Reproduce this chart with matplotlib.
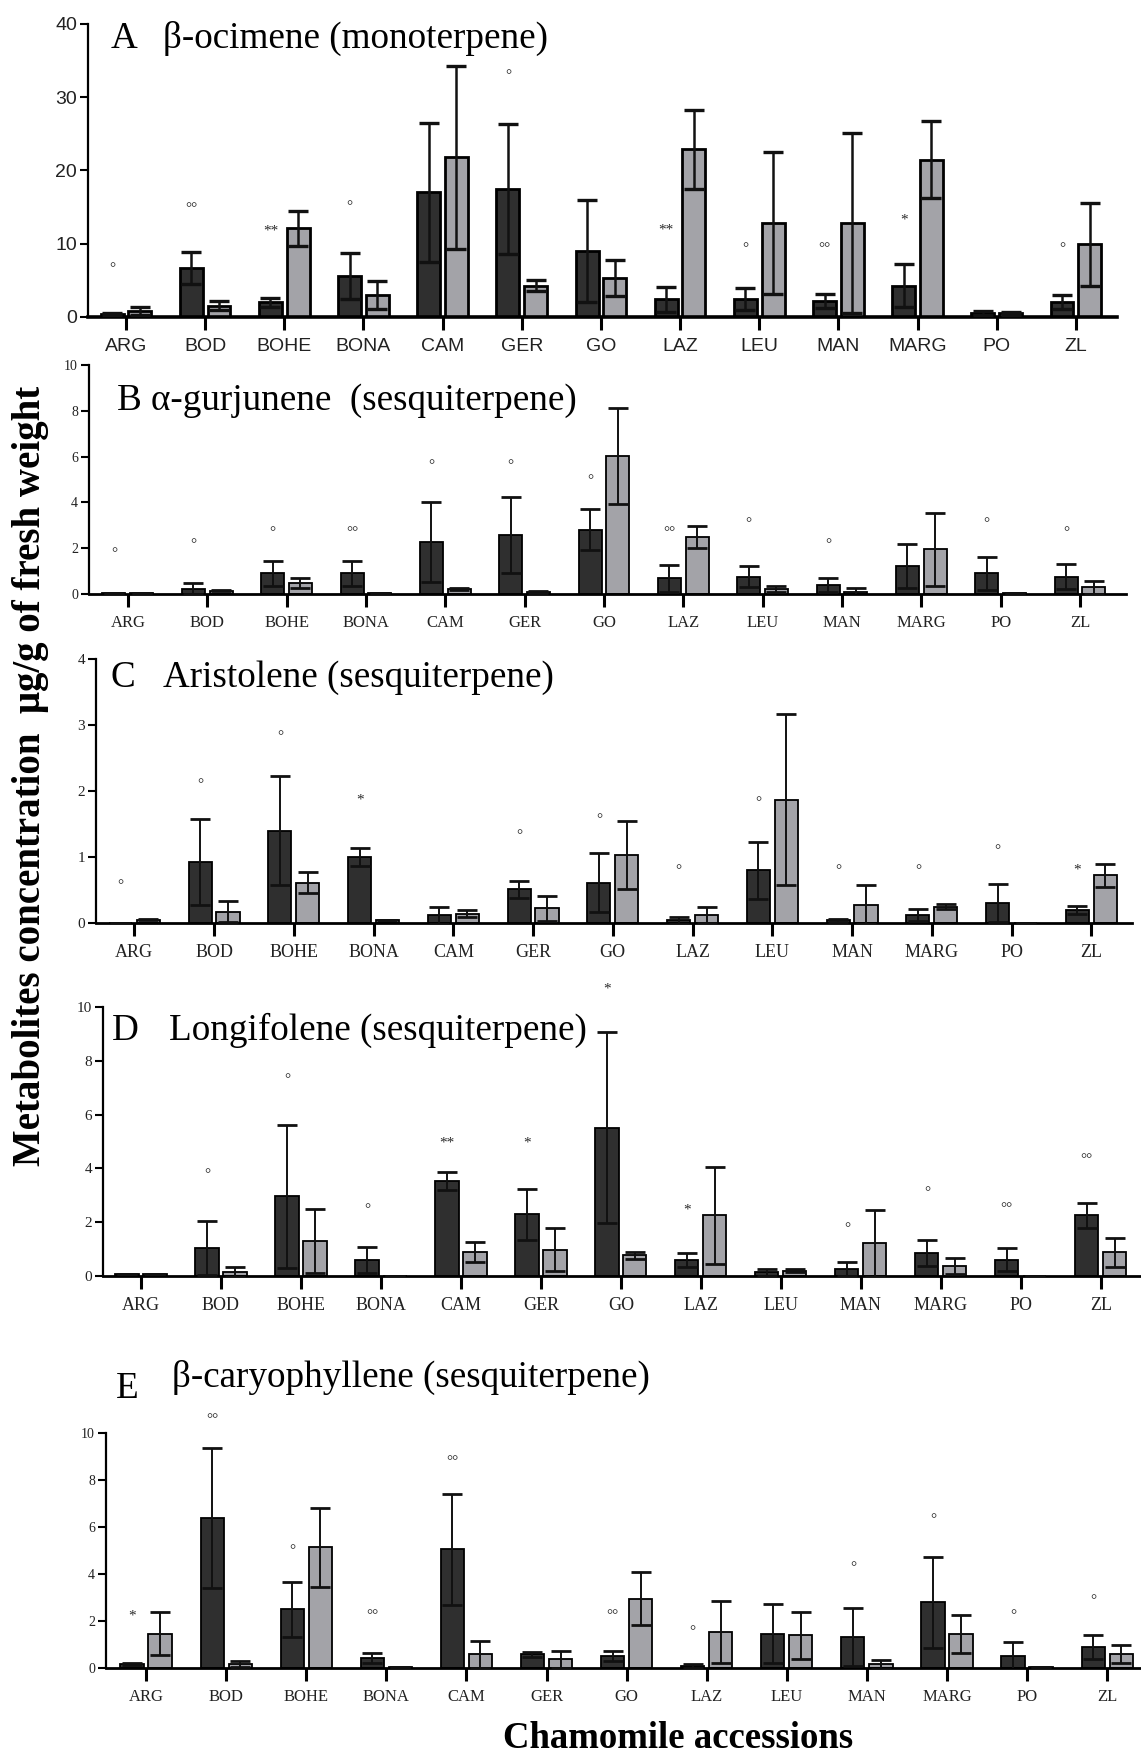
import matplotlib.pyplot as plt
import numpy as np

W, H = 1141, 1757

accessions = ["ARG", "BOD", "BOHE", "BONA", "CAM", "GER", "GO",
              "LAZ", "LEU", "MAN", "MARG", "PO", "ZL"]

# A - beta-ocimene
ocim_dark = [0.4, 6.7, 2.0, 5.6, 17.0, 17.5, 9.0, 2.4, 2.4, 2.2, 4.3, 0.55, 2.0]
ocim_dark_sd = [0.15, 2.2, 0.6, 3.1, 9.5, 8.9, 7.0, 1.75, 1.5, 1.0, 2.9, 0.25, 0.95]
ocim_light = [0.8, 1.55, 12.1, 3.0, 21.8, 4.3, 5.3, 22.9, 12.8, 12.8, 21.5, 0.5, 9.9]
ocim_light_sd = [0.5, 0.6, 2.4, 1.85, 12.5, 0.8, 2.5, 5.4, 9.7, 12.3, 5.2, 0.2, 5.6]
ocim_sig = ["°", "°°", "**", "°", "", "°", "", "**", "°", "°°", "*", "", "°"]
ocim_sig_y = [6.6, 14.8, 11.8, 15.0, 0, 33.0, 0, 11.9, 9.4, 9.4, 13.2, 0, 9.4]

# B - alpha-gurjunene
gurj_dark = [0.06, 0.23, 0.9, 0.9, 2.27, 2.58, 2.8, 0.68, 0.76, 0.38, 1.22, 0.9, 0.76]
gurj_dark_sd = [0.0, 0.23, 0.54, 0.53, 1.75, 1.66, 0.9, 0.6, 0.45, 0.3, 0.96, 0.73, 0.56]
gurj_light = [0.05, 0.15, 0.47, 0.03, 0.23, 0.1, 6.03, 2.49, 0.23, 0.09, 1.95, 0.03, 0.3]
gurj_light_sd = [0.0, 0.02, 0.21, 0.0, 0.05, 0.05, 2.1, 0.47, 0.13, 0.17, 1.6, 0.0, 0.28]
gurj_sig = ["°", "°", "°", "°°", "°", "°", "°", "°°", "°", "°", "", "°", "°"]
gurj_sig_y = [1.75, 2.17, 2.7, 2.7, 5.6, 5.6, 4.95, 2.7, 3.06, 2.17, 0, 3.06, 2.7]

# C - aristolene
arist_dark = [0.0, 0.93, 1.4, 1.0, 0.12, 0.51, 0.61, 0.04, 0.8, 0.04, 0.12, 0.3, 0.2]
arist_dark_sd = [0.0, 0.65, 0.83, 0.13, 0.13, 0.13, 0.45, 0.05, 0.43, 0.02, 0.09, 0.29, 0.06]
arist_light = [0.05, 0.17, 0.61, 0.04, 0.14, 0.22, 1.03, 0.12, 1.87, 0.28, 0.25, 0.0, 0.72]
arist_light_sd = [0.01, 0.16, 0.16, 0.0, 0.05, 0.19, 0.52, 0.12, 1.3, 0.29, 0.04, 0.0, 0.17]
arist_sig = ["°", "°", "°", "*", "", "°", "°", "°", "°", "°", "°", "°", "*"]
arist_sig_y = [0.56, 2.1, 2.82, 1.86, 0, 1.33, 1.57, 0.8, 1.83, 0.8, 0.8, 1.09, 0.8]

# D - longifolene
longi_dark = [0.07, 1.05, 2.97, 0.6, 3.53, 2.3, 5.52, 0.58, 0.14, 0.26, 0.84, 0.6, 2.25]
longi_dark_sd = [0.0, 1.0, 2.66, 0.49, 0.32, 0.95, 3.55, 0.26, 0.13, 0.25, 0.48, 0.43, 0.48]
longi_light = [0.06, 0.14, 1.3, 0.0, 0.9, 0.97, 0.77, 2.25, 0.2, 1.21, 0.38, 0.0, 0.89]
longi_light_sd = [0.0, 0.18, 1.18, 0.0, 0.38, 0.8, 0.13, 1.8, 0.05, 1.26, 0.3, 0.0, 0.54]
longi_sig = ["", "°", "°", "°", "**", "*", "*", "*", "", "°", "°", "°°", "°°"]
longi_sig_y = [0, 3.77, 7.3, 2.45, 4.93, 4.93, 10.68, 2.45, 0, 1.77, 3.1, 2.5, 4.33]

# E - beta-caryophyllene
cary_dark = [0.17, 6.38, 2.5, 0.44, 5.05, 0.58, 0.51, 0.08, 1.46, 1.32, 2.8, 0.51, 0.88]
cary_dark_sd = [0.06, 2.97, 1.16, 0.21, 2.35, 0.12, 0.21, 0.07, 1.25, 1.23, 1.94, 0.6, 0.51]
cary_light = [1.46, 0.16, 5.13, 0.05, 0.58, 0.37, 2.95, 1.53, 1.39, 0.16, 1.46, 0.04, 0.58]
cary_light_sd = [0.92, 0.12, 1.69, 0.0, 0.57, 0.35, 1.12, 1.32, 1.0, 0.2, 0.81, 0.0, 0.38]
cary_sig = ["*", "°°", "°", "°°", "°°", "", "°°", "°", "", "°", "°", "°", "°"]
cary_sig_y = [2.21, 10.57, 4.98, 2.21, 8.8, 0, 2.21, 1.53, 0, 4.27, 6.31, 2.21, 2.85]

DARK = "#2f2f2f"
LIGHT = "#a3a3a8"
SERIF = ["Liberation Serif", "DejaVu Serif"]
NARROW = ["Liberation Sans Narrow", "Liberation Sans", "DejaVu Sans"]


def px_axes(left, right, top, bottom):
    return [left / W, 1 - bottom / H, (right - left) / W, (bottom - top) / H]


def draw_panel(ax, dark, dark_sd, light, light_sd, sig, sig_y, ymax, ystep,
               xlim, tick_font, tick_size, heavy=False):
    x = np.arange(len(accessions))
    off, bw = 0.175, 0.29
    edge = 2.0 if heavy else 1.3
    elw = 1.8 if heavy else 1.4
    ax.bar(x - off, dark, bw, color=DARK, edgecolor="black", linewidth=edge, zorder=2)
    ax.bar(x + off, light, bw, color=LIGHT, edgecolor="black", linewidth=edge, zorder=2)
    for xs, m, s in ((x - off, dark, dark_sd), (x + off, light, light_sd)):
        ax.errorbar(xs, m, yerr=s, fmt="none", ecolor="#111111", elinewidth=elw,
                    capsize=7, capthick=elw + 0.6, zorder=3)
    for xi, s, yv in zip(x, sig, sig_y):
        if s:
            ax.text(xi - off, yv, s, ha="center", va="center", fontsize=11,
                    family=SERIF, color="#2a2a2a", clip_on=False)
    ax.set_xlim(*xlim)
    ax.set_ylim(0, ymax)
    ax.set_yticks(np.arange(0, ymax + ystep / 2, ystep))
    ax.set_xticks(x)
    ax.set_xticklabels(accessions, family=tick_font, fontsize=tick_size, color="#222222")
    for lab in ax.get_yticklabels():
        lab.set_family(tick_font)
        lab.set_fontsize(tick_size - 2 if not heavy else tick_size)
        lab.set_color("#222222")
    for side in ("top", "right"):
        ax.spines[side].set_visible(False)
    ax.spines["bottom"].set_linewidth(2.6 if heavy else 2.0)
    ax.spines["left"].set_linewidth(1.6)
    ax.tick_params(axis="x", length=9, width=2.2, pad=6)
    ax.tick_params(axis="y", length=6, width=1.5, pad=2)


fig = plt.figure(figsize=(W / 100, H / 100), dpi=100)

panels = [
    (px_axes(88, 1117, 24, 317), ocim_dark, ocim_dark_sd, ocim_light, ocim_light_sd,
     ocim_sig, ocim_sig_y, 40, 10, (-0.48, 12.52), NARROW, 14, True),
    (px_axes(89, 1126, 365, 594), gurj_dark, gurj_dark_sd, gurj_light, gurj_light_sd,
     gurj_sig, gurj_sig_y, 10, 2, (-0.49, 12.58), SERIF, 12, False),
    (px_axes(96, 1132, 659, 923), arist_dark, arist_dark_sd, arist_light, arist_light_sd,
     arist_sig, arist_sig_y, 4, 1, (-0.48, 12.51), SERIF, 13, False),
    (px_axes(103, 1140, 1007, 1276), longi_dark, longi_dark_sd, longi_light, longi_light_sd,
     longi_sig, longi_sig_y, 10, 2, (-0.475, 12.49), SERIF, 13, False),
    (px_axes(106, 1140, 1433, 1668), cary_dark, cary_dark_sd, cary_light, cary_light_sd,
     cary_sig, cary_sig_y, 10, 2, (-0.5, 12.41), SERIF, 12, False),
]
for rect, *args in panels:
    ax = fig.add_axes(rect)
    draw_panel(ax, *args)

# panel letters and compound names
titles = [
    ("A", 111, 48, "β-ocimene (monoterpene)", 163, 48),
    ("B", 117, 410, "α-gurjunene  (sesquiterpene)", 151, 410),
    ("C", 110, 687, "Aristolene (sesquiterpene)", 163, 687),
    ("D", 112, 1040, "Longifolene (sesquiterpene)", 169, 1040),
    ("E", 116, 1398, "β-caryophyllene (sesquiterpene)", 172, 1387),
]
for letter, lx, ly, name, nx, ny in titles:
    fig.text(lx / W, 1 - ly / H, letter, family=SERIF, fontsize=26.7, va="baseline")
    fig.text(nx / W, 1 - ny / H, name, family=SERIF, fontsize=26.7, va="baseline")

fig.text(31 / W, 1 - 776 / H, "Metabolites concentration  μg/g of fresh weight",
         family=SERIF, fontweight="bold", fontsize=28, rotation=90,
         ha="center", va="center")
fig.text(678 / W, 1 - 1756 / H, "Chamomile accessions", family=SERIF,
         fontweight="bold", fontsize=26.5, ha="center", va="bottom")

fig.savefig("out.png", dpi=100, facecolor="white")
